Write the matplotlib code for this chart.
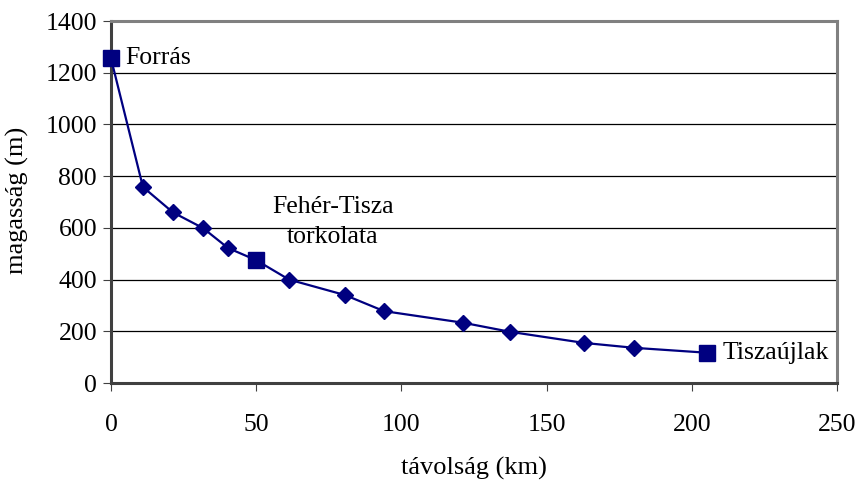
import matplotlib
matplotlib.use("Agg")
import matplotlib.pyplot as plt

plt.rcParams['font.family'] = ['Liberation Serif', 'DejaVu Serif']

# Data
dist_km = [0, 11, 21.3, 31.7, 40.3, 50, 61.3, 80.6, 94, 121.3, 137.4, 162.9, 180.2, 205.3]
elev_m = [1255, 758, 660, 599, 522, 475, 400, 340, 278, 233, 198, 155, 136, 117]
key_x = [0, 50, 205.3]
key_y = [1255, 475, 117]
key_labels = ["Forrás", "Fehér-Tisza\ntorkolata", "Tiszaújlak"]
diamond_idx = [1, 2, 3, 4, 6, 7, 8, 9, 10, 11, 12]

x_ticks = [0, 50, 100, 150, 200, 250]
y_ticks = [0, 200, 400, 600, 800, 1000, 1200, 1400]

navy = '#000080'
fs = 18.5
fig = plt.figure(figsize=(8.57, 4.83), dpi=100)
ax = fig.add_axes([111/857, 1 - 383/483, (837-111)/857, (383-21)/483])

ax.plot(dist_km, elev_m, color=navy, lw=1.6, zorder=3)
ax.plot([dist_km[i] for i in diamond_idx], [elev_m[i] for i in diamond_idx],
        linestyle='none', marker='D', ms=8, color=navy, zorder=4, clip_on=False)
ax.plot(key_x, key_y, linestyle='none', marker='s', ms=12, color=navy, zorder=5, clip_on=False)

ax.text(5, 1255, key_labels[0], fontsize=fs, va='center', ha='left')
ax.text(76.4, 622, key_labels[1], fontsize=fs, va='center', ha='center', linespacing=1.45)
ax.text(210.5, 117, key_labels[2], fontsize=fs, va='center', ha='left')

ax.set_xlim(0, 250)
ax.set_ylim(0, 1400)
ax.set_xticks(x_ticks)
ax.set_yticks(y_ticks)
ax.tick_params(axis='both', labelsize=fs, direction='out', length=6, color='#404040')
ax.tick_params(axis='x', pad=16)
ax.tick_params(axis='y', pad=4)
ax.grid(axis='y', color='black', lw=0.9)
ax.set_axisbelow(True)

for s in ['top', 'right']:
    ax.spines[s].set_color('#808080')
    ax.spines[s].set_linewidth(2.2)
for s in ['left', 'bottom']:
    ax.spines[s].set_color('#404040')
    ax.spines[s].set_linewidth(2.2)

ax.set_xlabel("távolság (km)", fontsize=19, va='center', ha='center')
ax.xaxis.set_label_coords((474-111)/726, (383-468)/362)
ax.set_ylabel("magasság (m)", fontsize=19, va='center', ha='center')
ax.yaxis.set_label_coords((17-111)/726, (383-200)/362)

fig.savefig("out.png", dpi=100)
